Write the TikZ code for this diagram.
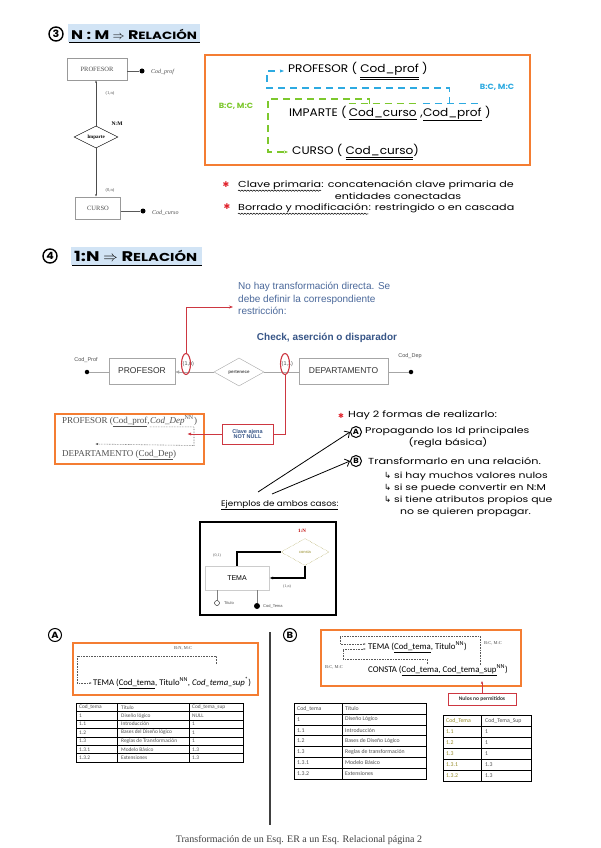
\documentclass[tikz,border=0pt]{standalone}
\usepackage{fontspec}
\setmainfont{Liberation Serif}
\newfontfamily\handf[FakeStretch=1.1]{Poppins}
\newfontfamily\handw[FakeStretch=1.28]{Poppins}
\newfontfamily\arialf{Liberation Sans}
\newfontfamily\calf{Carlito}
\newfontfamily\djv{DejaVu Sans}
\usetikzlibrary{arrows.meta,shapes.geometric,decorations.pathmorphing,calc}
\definecolor{orng}{RGB}{244,125,50}
\definecolor{hlblue}{RGB}{210,228,245}
\definecolor{bdash}{RGB}{45,170,225}
\definecolor{gdash}{RGB}{125,200,45}
\definecolor{ast}{RGB}{225,35,45}
\definecolor{docblue}{RGB}{75,105,155}
\definecolor{dkblue}{RGB}{55,85,135}
\definecolor{redl}{RGB}{205,55,65}
\definecolor{olivec}{RGB}{150,140,40}
\definecolor{txtgray}{RGB}{80,80,80}
\newcommand{\myfs}[1]{\fontsize{#1}{#1}\selectfont}
\begin{document}
\begin{tikzpicture}[x=1pt,y=-1pt,
  hand/.style={font=\handf\myfs{#1}, inner sep=0pt},
  handwide/.style={font=\handw\myfs{#1}, inner sep=0pt},
  orangebox/.style={draw=orng, line width=1.4pt},
  erthree/.style={draw=gray!80, fill=white, minimum width=60pt, minimum height=22pt, font=\myfs{6.5}, text=txtgray, inner sep=0pt},
  erfour/.style={draw=gray!70, fill=white, minimum height=26pt, font=\arialf\myfs{8.5}, text=black!80, inner sep=0pt},
  dotnode/.style={circle, fill=black, inner sep=0pt, minimum size=5pt},
  circnode/.style={circle, draw, line width=1pt, inner sep=0pt, minimum size=11pt, font=\handf\bfseries\myfs{7.5}},
  numnode/.style={circle, draw, line width=1.4pt, inner sep=0pt, minimum size=14pt, font=\handf\bfseries\myfs{10}},
  bdashst/.style={draw=bdash, line width=1.1pt, dash pattern=on 7pt off 5pt},
  gdashst/.style={draw=gdash, line width=1.1pt, dash pattern=on 7pt off 5pt},
  tbltxt/.style={anchor=west, font=\calf\myfs{#1}, text=txtgray, inner sep=0pt},
  smalllbl/.style={font=\myfs{4.5}, text=txtgray, inner sep=0pt},
  wavy/.style={decorate, decoration={snake, amplitude=0.6pt, segment length=3pt}, line width=0.5pt}
]
\useasboundingbox (0,0) rectangle (600,848);
\fill[white] (0,0) rectangle (600,848);

% ================= Section 3 header
\node[numnode] (n3) at (56,34) {3};
\fill[hlblue] (68,24) rectangle (200,42);
\node[font=\handw\bfseries, anchor=west, inner sep=0pt] (h3) at (71,34) {\myfs{12.5}N : M $\Rightarrow$ R{\myfs{10.5}ELACIÓN}};
\draw[line width=0.9pt] (69,42) -- (200,42);

% ================= Section 3 ER diagram
\node[erthree] (prof3) at (97,69) {PROFESOR};
\node[dotnode] (dprof3) at (142,71) {};
\draw[gray!70!black, line width=0.8pt] (prof3.east |- dprof3) -- (dprof3);
\node[font=\itshape\myfs{6}, anchor=west, text=txtgray, inner sep=0pt] (cprof3) at (151,72) {Cod\_prof};
\node[draw, diamond, aspect=2, minimum width=44pt, minimum height=22pt, inner sep=0pt, font=\bfseries\myfs{5}, fill=white] (imp3) at (96,137) {Imparte};
\node[erthree, minimum width=45pt] (cur3) at (98,208) {CURSO};
\draw[gray!60!black, line width=0.7pt, -{Latex[length=2.5pt,width=2pt]}] (imp3.north) -- (imp3.north |- prof3.south);
\draw[gray!60!black, line width=0.7pt, -{Latex[length=2.5pt,width=2pt]}] (imp3.south) -- (imp3.south |- cur3.north);
\node[dotnode] (dcur3) at (143,211) {};
\draw[gray!70!black, line width=1pt] (cur3.east |- dcur3) -- (dcur3);
\node[font=\itshape\myfs{6}, anchor=west, text=txtgray, inner sep=0pt] (ccur3) at (152,213) {Cod\_curso};
\node[smalllbl] (l1n3) at (110,93) {(1,n)};
\node[font=\bfseries\myfs{5.5}, inner sep=0pt] (nm3) at (117,124) {N:M};
\node[smalllbl] (l0n3) at (110,190) {(0,n)};

% ================= Section 3 relational box
\draw[orangebox] (205,55) rectangle (530,165);
\node[hand=11, anchor=west] (p3) at (288,71) {PROFESOR ( \underline{\underline{Cod\_prof}} )};
\node[hand=11, anchor=west] (i3a) at (289,112) {IMPARTE (\,};
\node[hand=11, anchor=base west] (i3b) at (i3a.base east) {\underline{Cod\_curso}};
\node[hand=11, anchor=base west] (i3c) at (i3b.base east) {\ ,\ };
\node[hand=11, anchor=base west] (i3d) at (i3c.base east) {\underline{Cod\_prof}};
\node[hand=11, anchor=base west] (i3e) at (i3d.base east) {\ )};
\node[hand=11, anchor=west] (c3) at (292,152) {CURSO ( \underline{\underline{Cod\_curso}})};
% blue connector
\coordinate (bbl) at ([yshift=4pt]i3d.north west);
\coordinate (bbr) at ([yshift=4pt]i3d.north east);
\coordinate (bris) at ($(bbl)!0.45!(bbr)$);
\coordinate (bcorner) at (267,88);
\draw[bdashst] (bbl) -- (bbr);
\draw[bdashst, -{Stealth[length=4pt]}] (bris) |- (bcorner) |- ([xshift=-4pt]p3.west);
\node[text=bdash, font=\handf\bfseries\myfs{7.5}, inner sep=0pt] (bt3) at (497,87) {B:C, M:C};
% green connector
\coordinate (gbl) at ([yshift=4pt]i3b.north west);
\coordinate (gbr) at ([yshift=4pt]i3b.north east);
\coordinate (gris) at ($(gbl)!0.3!(gbr)$);
\coordinate (gcorner) at (268,99);
\draw[gdashst] (gbl) -- (gbr);
\draw[gdashst, -{Stealth[length=4pt]}] (gris) -- (gris |- gcorner) -- (gcorner) |- ([xshift=-4pt]c3.west);
\node[text=gdash, font=\handf\bfseries\myfs{7.5}, inner sep=0pt] (gt3) at (236,106) {B:C, M:C};

% notes
\node[text=ast, font=\djv\myfs{8}, inner sep=0pt] (as1) at (226,185) {✱};
\node[handwide=8.7, anchor=west] (cpk) at (238,185) {Clave primaria};
\node[handwide=8.7, anchor=base west] (cpk2) at (cpk.base east) {: concatenación clave primaria de};
\draw[wavy] ([yshift=-1pt]cpk.south west) -- ([yshift=-1pt]cpk.south east);
\node[handwide=8.7] (ent) at (398,196) {entidades conectadas};
\node[text=ast, font=\djv\myfs{8}, inner sep=0pt] (as2) at (227,207) {✱};
\node[handwide=8.7, anchor=west] (bym) at (238,208) {Borrado y modificación};
\node[handwide=8.7, anchor=base west] (bym2) at (bym.base east) {: restringido o en cascada};
\draw[wavy] ([yshift=-1pt]bym.south west) -- ([yshift=-1pt]bym.south east);

% ================= Section 4 header
\node[numnode] (n4) at (50,256) {4};
\fill[hlblue] (71,247) rectangle (202,265);
\node[font=\handw\bfseries, anchor=west, inner sep=0pt] (h4) at (74,256) {\myfs{14}1:N $\Rightarrow$ R{\myfs{11.5}ELACIÓN}};
\draw[line width=0.9pt] (72,265) -- (202,265);

% ================= Section 4 ER
\node[font=\arialf\fontsize{10}{12.5}\selectfont, text=docblue, anchor=north west, align=left, inner sep=0pt] (nohay) at (238,282) {No hay transformación directa. Se\\debe definir la correspondiente\\restricción:};
\node[font=\arialf\bfseries\myfs{10}, text=dkblue, inner sep=0pt] (chk) at (327,338) {Check, aserción o disparador};
\node[erfour, minimum width=66pt] (prof4) at (142,371) {PROFESOR};
\node[diamond, draw=gray!70, aspect=1.8, minimum width=50pt, minimum height=28pt, inner sep=0pt, font=\arialf\bfseries\myfs{4.5}, text=txtgray, fill=white] (per4) at (239,372) {pertenece};
\node[erfour, minimum width=89pt] (dep4) at (343.5,371) {DEPARTAMENTO};
\node[dotnode, minimum size=4.5pt] (dp4) at (87,372) {};
\node[dotnode, minimum size=4.5pt] (dd4) at (411,372) {};
\draw[gray!70] (dp4) -- (prof4.west |- dp4);
\draw[gray!70, -{Latex[length=4pt,width=3.5pt]}] (per4.west) -- (prof4.east |- per4.west);
\draw[gray!70] (per4.east) -- (dep4.west |- per4.east);
\draw[gray!70] (dep4.east |- dd4) -- (dd4);
\node[font=\arialf\myfs{5.5}, text=txtgray, inner sep=0pt] (cp4) at (86,360) {Cod\_Prof};
\node[font=\arialf\myfs{5.5}, text=txtgray, inner sep=0pt] (cd4) at (410,356) {Cod\_Dep};
\node[font=\arialf\myfs{5.5}, text=txtgray, anchor=west, inner sep=0pt] (l14) at (182.5,364) {(1,n)};
\node[font=\arialf\myfs{5.5}, text=txtgray, anchor=west, inner sep=0pt] (l24) at (281.5,364) {(1,1)};
\node[draw=redl, ellipse, line width=1.1pt, minimum width=9pt, minimum height=21pt, inner sep=0pt] (e1) at (186,364) {};
\node[draw=redl, ellipse, line width=1.1pt, minimum width=9pt, minimum height=21pt, inner sep=0pt] (e2) at (285,364) {};
\coordinate (t1) at (233,307);
\draw[redl, line width=0.9pt, -{Stealth[length=4pt]}] (e1.north) |- (t1);

% orange box 4
\draw[orangebox] (55,414) rectangle (204,464);
\node[font=\myfs{9}, text=txtgray, anchor=west, inner sep=0pt] (pf4a) at (62,422) {PROFESOR (\underline{Cod\_prof}, };
\node[font=\myfs{9}, text=txtgray, anchor=base west, inner sep=0pt] (pf4b) at (pf4a.base east) {\textit{Cod\_Dep}\textsuperscript{NN}};
\node[font=\myfs{9}, text=txtgray, anchor=base west, inner sep=0pt] (pf4c) at (pf4b.base east) {)};
\node[font=\myfs{9}, text=txtgray, anchor=west, inner sep=0pt] (dp4b) at (62,455) {DEPARTAMENTO (\underline{Cod\_Dep})};
\coordinate (arrend4) at (95,444);
\draw[densely dotted, gray!70!black, line width=0.6pt, -{Latex[length=3pt]}] ([yshift=-1.5pt]pf4b.south west) -- ([yshift=-1.5pt]pf4b.south east) -- ([yshift=-1.5pt]pf4b.south east |- arrend4) -- (arrend4);
\node[draw=redl, line width=0.9pt, fill=white, minimum width=51pt, minimum height=20pt, align=center, font=\arialf\bfseries\myfs{5.5}, text=dkblue, inner sep=1pt] (ca) at (247.5,434) {Clave ajena\\NOT NULL};
\coordinate (ot) at (187,434);
\draw[redl, line width=0.9pt] (e2.south) |- (ca.east);
\draw[redl, line width=0.9pt, -{Latex[length=4pt]}] (ca.west) -- (ot);

% hand notes section 4
\node[text=ast, font=\djv\myfs{7}, inner sep=0pt] (as3) at (341,416) {✱};
\node[handwide=8.8, anchor=west] (hay) at (348,415) {Hay 2 formas de realizarlo:};
\node[circnode] (cA) at (356,432) {A};
\node[handwide=8.6, anchor=west] (propA) at (365,431) {Propagando los Id principales};
\node[handwide=8.6] (regla) at (448,443) {(regla básica)};
\node[circnode] (cB) at (356,461) {B};
\node[handwide=8.8, anchor=west] (trB) at (368,461) {Transformarlo en una relación.};
\node[handwide=8.5, anchor=west] (s1) at (384,476) {{\djv ↳} si hay muchos valores nulos};
\node[handwide=8.5, anchor=west] (s2) at (384,488) {{\djv ↳} si se puede convertir en N:M};
\node[handwide=8.5, anchor=west] (s3) at (384,500) {{\djv ↳} si tiene atributos propios que};
\node[handwide=8.5, anchor=west] (s4) at (400,512) {no se quieren propagar.};
\coordinate (aA) at (258,492);
\coordinate (aB) at (272,494);
\draw[line width=0.8pt, -{Straight Barb[length=4pt]}] (aA) -- (cA.west);
\draw[line width=0.8pt, -{Straight Barb[length=4pt]}] (aB) -- (cB.west);
\node[hand=8, anchor=west] (ej) at (221,505) {\underline{Ejemplos de ambos casos:}};

% example ER
\draw[line width=1.5pt] (200,522) rectangle (336,615);
\node[text=red!75!black, font=\bfseries\myfs{5}, inner sep=0pt] (n1n) at (302,531) {1:N};
\node[diamond, draw=olivec, densely dotted, aspect=1.8, minimum width=48pt, minimum height=27pt, inner sep=0pt, font=\arialf\myfs{4}, text=olivec] (cons) at (305,552) {consta};
\node[draw=gray!40, minimum width=64pt, minimum height=24pt, inner sep=0pt, font=\arialf\myfs{7}] (tema) at (237,578) {TEMA};
\draw[line width=1.2pt] (cons.west) -- (237,552) -- (tema.north);
\draw[line width=1.2pt, -{Latex[length=4pt]}] (cons.south) |- (tema.east);
\node[smalllbl, font=\myfs{4}] (l01) at (217,556) {(0,1)};
\node[smalllbl, font=\myfs{4}] (l1n) at (287,587) {(1,n)};
\node[circle, draw, inner sep=0pt, minimum size=5pt] (tit) at (217,603) {};
\node[dotnode, minimum size=6pt] (codt) at (257,606) {};
\draw[gray] (tit) -- (tit |- tema.south);
\draw[gray] (codt) -- (codt |- tema.south);
\node[font=\arialf\myfs{4}, anchor=west, inner sep=0pt, text=txtgray] (titl) at (224,603) {Titulo};
\node[font=\arialf\myfs{4}, anchor=west, inner sep=0pt, text=txtgray] (codtl) at (263,606) {Cod\_Tema};

% ================= A / B
\node[circnode, minimum size=13pt, font=\handf\bfseries\myfs{9}] (bigA) at (55,635) {A};
\node[circnode, minimum size=13pt, font=\handf\bfseries\myfs{9}] (bigB) at (290,635) {B};
\draw[gray!50!black, line width=1.5pt] (270,632) -- (270,825);

\draw[orangebox] (73,643) rectangle (258,695);
\node[font=\myfs{4.5}, text=txtgray, inner sep=0pt] (bnA) at (183,648) {B:N, M:C};
\node[font=\calf\myfs{8.7}, anchor=west, inner sep=0pt] (temaA) at (93,683) {TEMA (\underline{Cod\_tema}, Titulo\textsuperscript{NN}, \textit{Cod\_tema\_sup}\textsuperscript{*})};
\draw[densely dotted, gray!70!black, line width=0.6pt, -{Latex[length=2.5pt]}] (216,664) -- (216,656) -- (77,656) |- ([xshift=-1pt]temaA.west);

\draw[orangebox] (321,630) rectangle (521,686);
\node[font=\calf\myfs{8.8}, anchor=west, inner sep=0pt] (temaB) at (368,647) {TEMA (\underline{Cod\_tema}, Titulo\textsuperscript{NN})};
\node[font=\calf\myfs{8.8}, anchor=west, inner sep=0pt] (constaB) at (368,670) {CONSTA (\underline{Cod\_tema, Cod\_tema\_sup}\textsuperscript{NN})};
\node[font=\myfs{4.5}, text=txtgray, anchor=west, inner sep=0pt] (bc1) at (484,643) {B:C, M:C};
\node[font=\myfs{4.5}, text=txtgray, anchor=west, inner sep=0pt] (bc2) at (325,667) {B:C, M:C};
\draw[densely dotted, gray!70!black, line width=0.6pt, -{Latex[length=2.5pt]}] (480,665) -- (480,636) -- (340,636) |- ([yshift=3pt,xshift=-2pt]temaB.west);
\draw[densely dotted, gray!70!black, line width=0.6pt, -{Latex[length=2.5pt]}] (427,664) -- (427,659) -- (343,659) |- ([yshift=-2pt,xshift=-2pt]temaB.west);
\node[draw=redl, line width=0.9pt, minimum width=68pt, minimum height=12pt, inner sep=0pt, font=\calf\bfseries\myfs{5.5}, text=black!80] (nulos) at (482,699) {Nulos no permitidos};
\draw[redl, line width=0.9pt, -{Latex[length=3pt]}] (nulos.north) -- ++(0,-12);

% ================= Tables
% table 1
\draw[line width=0.8pt] (76,703) rectangle (243,762);
\foreach \k in {1,...,6} \draw[line width=0.4pt] (76,{703+\k*8.43}) -- (243,{703+\k*8.43});
\draw[line width=0.4pt] (117,703) -- (117,762) (189,703) -- (189,762);
\foreach \a/\b/\c [count=\k from 0] in {Cod\_tema/Titulo/Cod\_tema\_sup, 1/Diseño lógico/NULL, 1.1/Introducción/1, 1.2/Bases del Diseño lógico/1, 1.3/Reglas de Transformación/1, 1.3.1/Modelo Básico/1.3, 1.3.2/Extensiones/1.3} {
  \node[tbltxt=5.4] at (79,{703+(\k+0.5)*8.43}) {\a};
  \node[tbltxt=5.4] at (121,{703+(\k+0.5)*8.43}) {\b};
  \node[tbltxt=5.4] at (192,{703+(\k+0.5)*8.43}) {\c};
}
% table 2
\draw[line width=0.8pt] (294,703) rectangle (426,779);
\foreach \k in {1,...,6} \draw[line width=0.4pt] (294,{703+\k*10.86}) -- (426,{703+\k*10.86});
\draw[line width=0.4pt] (342,703) -- (342,779);
\foreach \a/\b [count=\k from 0] in {Cod\_tema/Título, 1/Diseño Lógico, 1.1/Introducción, 1.2/Bases de Diseño Lógico, 1.3/Reglas de transformación, 1.3.1/Modelo Básico, 1.3.2/Extensiones} {
  \node[tbltxt=5.8] at (297,{703+(\k+0.5)*10.86}) {\a};
  \node[tbltxt=5.8] at (345,{703+(\k+0.5)*10.86}) {\b};
}
% table 3
\draw[line width=0.8pt] (443,715) rectangle (531,781);
\foreach \k in {1,...,5} \draw[line width=0.4pt] (443,{715+\k*11}) -- (531,{715+\k*11});
\draw[line width=0.8pt] (481,715) -- (481,781);
\foreach \a/\b [count=\k from 0] in {Cod\_Tema/Cod\_Tema\_Sup, 1.1/1, 1.2/1, 1.3/1, 1.3.1/1.3, 1.3.2/1.3} {
  \node[tbltxt=5.8, text=olivec] at (446,{715+(\k+0.5)*11}) {\a};
  \node[tbltxt=5.8] at (485,{715+(\k+0.5)*11}) {\b};
}

% footer
\node[font=\myfs{10}, text=black!75, inner sep=0pt] (foot) at (299,840) {Transformación de un Esq. ER a un Esq. Relacional página 2};
\end{tikzpicture}
\end{document}
